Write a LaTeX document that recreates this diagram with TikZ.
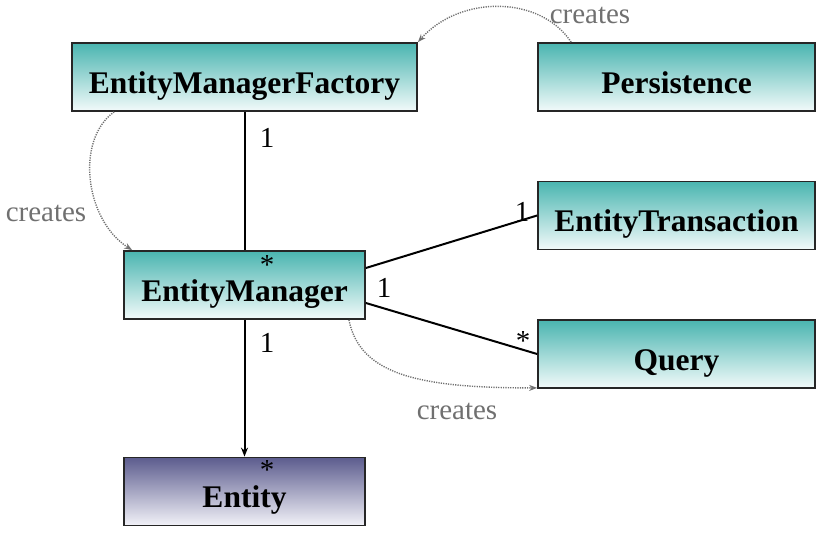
\documentclass[tikz,border=0pt]{standalone}
\usepackage{fontspec}
\setmainfont{Liberation Serif}
\usetikzlibrary{arrows.meta}

\definecolor{clstop}{HTML}{4AB5B0}
\definecolor{clsbot}{HTML}{F2FAFA}
\definecolor{enttop}{HTML}{5C5C8E}
\definecolor{entbot}{HTML}{F2F2F8}
\definecolor{notegray}{HTML}{707070}

\begin{document}
\begin{tikzpicture}[x=1pt, y=-1pt]
		\tikzset{
			every node/.style={
				inner sep=0pt,
				align=center
			},
			class/.style={
				rectangle,
				draw=black!85,
				line width=1.8pt,
				minimum width=277pt,
				minimum height=68pt,
				text height=40pt,
				text depth=8pt,
				top color=clstop,
				bottom color=clsbot,
				font=\fontsize{31.5}{36}\selectfont\bfseries
			},
			entitybox/.style={
				class,
				top color=enttop,
				bottom color=entbot
			},
			mult/.style={
				font=\fontsize{29}{34}\selectfont
			},
			note/.style={
				text=notegray,
				font=\fontsize{29}{34}\selectfont
			},
			line/.style={
				line width=2pt
			},
			creates/.style={
				notegray,
				line width=1.4pt,
				dash pattern=on 1.2pt off 1.2pt,
				-{Stealth[length=8pt, width=6pt]}
			}
		}

		\useasboundingbox (0, 0) rectangle (821, 538);

		\node[class, minimum width=345pt] (emf) at (244.5, 77)
			{EntityManagerFactory};
		\node[class] (persist) at (676.5, 77)
			{Persistence};
		\node[class] (trans) at (676.5, 215.5)
			{EntityTransaction};
		\node[class, minimum width=241pt] (em) at (244.5, 285)
			{EntityManager};
		\node[class] (query) at (676.5, 354)
			{Query};
		\node[entitybox, minimum width=241pt] (entity) at (244.5, 491.5)
			{Entity};

		% multiplicities
		\node[mult] (m-emf) at (267, 138) {1};
		\node[mult] (m-em1) at (267, 265) {*};
		\node[mult] (m-em2) at (267, 343) {1};
		\node[mult] (m-ent) at (267, 470) {*};
		\node[mult] (m-tr1) at (522, 212) {1};
		\node[mult] (m-em3) at (384, 288) {1};
		\node[mult] (m-qry) at (523, 341) {*};

		\node[note] (c1) at (590, 15) {creates};
		\node[note] (c2) at (46, 213) {creates};
		\node[note] (c3) at (457, 411) {creates};

		\draw[line] (emf) -- (em);
		\draw[line] ([yshift=17pt]em.east) -- (trans.west);
		\draw[line] ([yshift=-18pt]em.east) -- (query.west);
		\draw[line, -{Stealth[length=9pt, width=7pt]}] (em) -- (entity);

		\draw[creates] ([xshift=34pt]persist.north west)
			.. controls (540, -5) and (460, -5) .. (emf.north east);
		\draw[creates] ([xshift=43pt]emf.south west)
			.. controls (75, 140) and (85, 220) .. ([xshift=9pt]em.north west);
		\draw[creates] ([xshift=-17pt]em.south east)
			.. controls (360, 375) and (420, 388) .. ([yshift=1pt]query.south west);

	\end{tikzpicture}
\end{document}
